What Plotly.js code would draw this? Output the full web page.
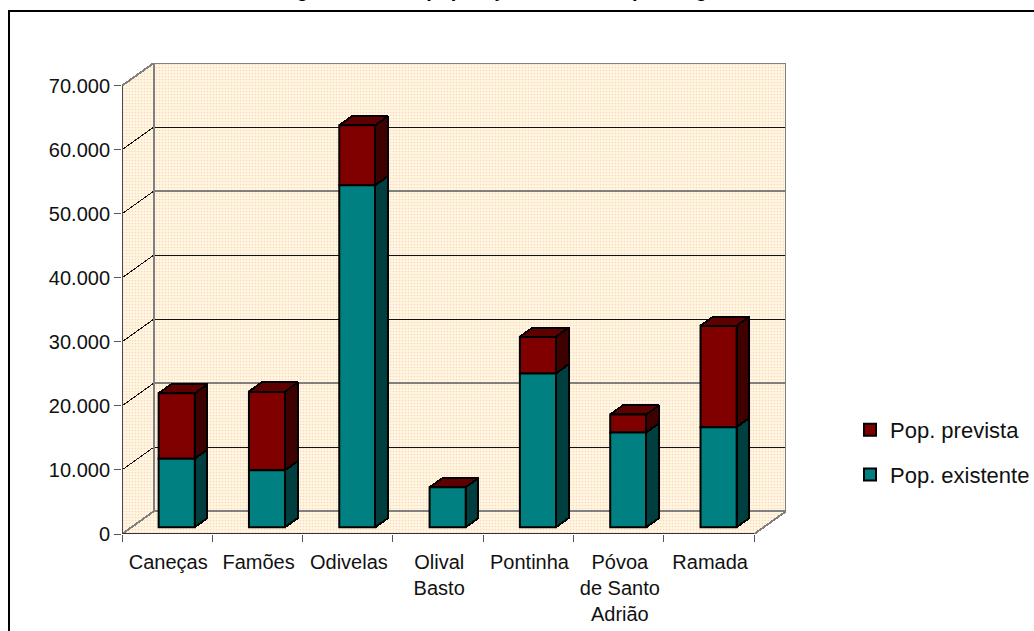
<!DOCTYPE html>
<html lang="pt">
<head>
<meta charset="utf-8">
<script src="https://cdn.plot.ly/plotly-3.0.1.min.js"></script>
<style>
html,body{margin:0;padding:0;background:#fff;overflow:hidden}
/* hard-edged strokes, as in an office-suite chart export */
#chart .scatterlayer .js-line{shape-rendering:crispEdges}
</style>
</head>
<body>
<div id="chart" style="width:1034px;height:631px"></div>
<script>
// Population per parish, thousands separated with a dot in the axis labels
const freguesias = ["Caneças", "Famões", "Odivelas", "Olival<br>Basto", "Pontinha", "Póvoa<br>de Santo<br>Adrião", "Ramada"];
const popExistente = [10700, 8880, 53400, 6230, 24000, 14800, 15620];
const popPrevista = [10200, 12300, 9370, 0, 5750, 2800, 15840];
const yTicks = [0, 10000, 20000, 30000, 40000, 50000, 60000, 70000];
const gridHeavy = [70000, 50000, 20000, 0];
const gridLight = [60000, 40000, 30000, 10000];
const nameExistente = "Pop. existente";
const namePrevista = "Pop. prevista";

// Oblique projection of the box: how far the back wall sits from the front plane
const DEPTH_X = 0.352, DEPTH_Y = 3550, Y_MAX = 70000;
const BAR_W = 0.4, FRONT = 0.3, BACK = 0.7;
const N = freguesias.length;
const LABEL_NUDGE = 0.012;
const FONT = "Liberation Sans, Arial, sans-serif";

function gaps(polys) {
  const x = [], y = [];
  polys.forEach(poly => { poly.forEach(p => { x.push(p[0]); y.push(p[1]); }); x.push(null); y.push(null); });
  return { x, y };
}
// Everything on the upper subplot (bars and their extrusions) shares the x2/y2 axes
const upper = { xaxis: "x2", yaxis: "y2" };
function polyTrace(polys, fill) {
  return Object.assign({ type: "scatter", mode: "lines", fill: "toself", fillcolor: fill,
    line: { color: "#000", width: 2 }, hoverinfo: "skip", showlegend: false }, gaps(polys), upper);
}
function wallTrace(polys) {
  return Object.assign({ type: "scatter", mode: "lines", fill: "toself",
    fillcolor: "#fff6da",
    fillpattern: { shape: ".", bgcolor: "#fff9da", fgcolor: "#fad2dc", size: 3, solidity: 0.25 },
    line: { width: 0, color: "rgba(0,0,0,0)" }, hoverinfo: "skip", showlegend: false }, gaps(polys));
}
function lineTrace(polys, color, width, extra) {
  return Object.assign({ type: "scatter", mode: "lines", line: { color, width },
    hoverinfo: "skip", showlegend: false }, gaps(polys), extra || {});
}

// Walls and floor of the box
const X_END = N + DEPTH_X;
const walls = wallTrace([
  [[DEPTH_X, DEPTH_Y], [X_END, DEPTH_Y], [X_END, Y_MAX + DEPTH_Y], [DEPTH_X, Y_MAX + DEPTH_Y], [DEPTH_X, DEPTH_Y]],
  [[0, 0], [DEPTH_X, DEPTH_Y], [DEPTH_X, Y_MAX + DEPTH_Y], [0, Y_MAX], [0, 0]],
  [[0, 0], [N, 0], [X_END, DEPTH_Y], [DEPTH_X, DEPTH_Y], [0, 0]]
]);

const gridPath = v => [[0, v], [DEPTH_X, v + DEPTH_Y], [X_END, v + DEPTH_Y]];
const backOnly = v => [[DEPTH_X, v + DEPTH_Y], [X_END, v + DEPTH_Y]];
const sideOnly = v => [[0, v], [DEPTH_X, v + DEPTH_Y]];

const gridBlack = lineTrace(gridLight.map(gridPath), "#111", 1);
const gridGrey = lineTrace(gridHeavy.map(backOnly), "#808080", 2);
const gridDiagBlack = lineTrace(gridHeavy.filter(v => v > 0 && v < Y_MAX).map(sideOnly), "#111", 1);
const gridDiagGrey = lineTrace([sideOnly(Y_MAX), sideOnly(0), [[N, 0], [X_END, DEPTH_Y]]], "#808080", 2);
const wallEdges = lineTrace([
  [[DEPTH_X, DEPTH_Y], [DEPTH_X, Y_MAX + DEPTH_Y]],
  [[X_END, DEPTH_Y], [X_END, Y_MAX + DEPTH_Y]]
], "#808080", 2);
const axisLeft = lineTrace([[[0, 0], [0, Y_MAX]]], "#4a4a4a", 2);
const axisFront = lineTrace([[[0, 0], [N, 0]]], "#333", 1.6);

// Bars: the front faces are native stacked bars, lifted by the projection offset
const centres = freguesias.map((_, i) => i + 0.5 + FRONT * DEPTH_X);
const frontBase = FRONT * DEPTH_Y;
const tops = popExistente.map((v, i) => v + popPrevista[i]);
const barTeal = Object.assign({ type: "bar", name: nameExistente, x: centres, y: popExistente, width: BAR_W,
  base: popExistente.map(() => frontBase), legendgroup: "b",
  marker: { color: "#008080", line: { color: "#000", width: 2 } }, hoverinfo: "skip" }, upper);
const barRed = Object.assign({ type: "bar", name: namePrevista, x: centres, y: popPrevista, width: BAR_W,
  base: popExistente.map(v => frontBase + v), legendgroup: "a",
  marker: { color: "#800000", line: { color: "#000", width: 2 } }, hoverinfo: "skip" }, upper);

const dX = (BACK - FRONT) * DEPTH_X, dY = (BACK - FRONT) * DEPTH_Y;
const side = (i, lo, hi) => {
  const r = centres[i] + BAR_W / 2;
  return [[r, frontBase + lo], [r + dX, frontBase + lo + dY], [r + dX, frontBase + hi + dY], [r, frontBase + hi], [r, frontBase + lo]];
};
const top3d = (i, h) => {
  const l = centres[i] - BAR_W / 2, r = centres[i] + BAR_W / 2, y = frontBase + h;
  return [[l, y], [r, y], [r + dX, y + dY], [l + dX, y + dY], [l, y]];
};
const sideTeal = polyTrace(popExistente.map((v, i) => side(i, 0, v)), "#003f3f");
const sideRed = polyTrace(popPrevista.map((v, i) => side(i, popExistente[i], tops[i])).filter((_, i) => popPrevista[i] > 0), "#3f0000");
const topRed = polyTrace(tops.map((v, i) => top3d(i, v)), "#5f0000");

const pxX = 664, pxY = 471;
const layout = {
  width: 1034, height: 631,
  margin: { l: 122, r: 248, t: 63, b: 97, pad: 0, autoexpand: false },
  paper_bgcolor: "#fff", plot_bgcolor: "rgba(0,0,0,0)",
  separators: ",.",
  barmode: "overlay",
  font: { family: FONT, size: 20, color: "#111" },
  xaxis: { range: [0, X_END], showgrid: false, zeroline: false, showline: false, ticks: "outside", ticklen: 7, tickwidth: 1, tickcolor: "#555",
    tickmode: "array", tickvals: Array.from({ length: N + 1 }, (_, i) => i), showticklabels: false },
  xaxis2: { overlaying: "x", anchor: "y2", side: "bottom", range: [0, X_END], showgrid: false, zeroline: false,
    showline: false, ticks: "", tickmode: "array", tickvals: freguesias.map((_, i) => i + 0.5 + LABEL_NUDGE), ticktext: freguesias,
    tickangle: 0, tickfont: { size: 20 }, ticklabelstandoff: 14 },
  yaxis: { range: [0, Y_MAX + DEPTH_Y], showgrid: false, zeroline: false, showline: false,
    tickmode: "array", tickvals: yTicks, tickformat: ",d", ticks: "outside", ticklen: 7, tickwidth: 1, tickcolor: "#555",
    tickfont: { size: 20 } },
  yaxis2: { overlaying: "y", anchor: "x2", range: [0, Y_MAX + DEPTH_Y], showgrid: false, zeroline: false, showline: false,
    showticklabels: false, ticks: "" },
  legend: { x: (850 - 122) / pxX, xanchor: "left", y: 1 - (409 - 63) / pxY, yanchor: "top",
    traceorder: "grouped", tracegroupgap: 13, font: { size: 22 }, bgcolor: "rgba(0,0,0,0)", itemclick: false, itemdoubleclick: false },
  shapes: [{ type: "rect", xref: "paper", yref: "paper", layer: "below",
    x0: (9 - 122) / pxX, x1: (1060 - 122) / pxX,
    y0: 1 - (660 - 63) / pxY, y1: 1 + (63 - 11) / pxY,
    line: { color: "#000", width: 2 }, fillcolor: "rgba(0,0,0,0)" }],
  annotations: [{ xref: "paper", yref: "paper", x: (182 - 122) / pxX, y: 1 + (63 - 3) / pxY,
    xanchor: "left", yanchor: "bottom", showarrow: false,
    text: "<b>Nível de carga urbana da população residente, por freguesia</b>",
    font: { family: FONT, size: 20, color: "#000" } }]
};

Plotly.newPlot("chart", [
  walls, gridBlack, gridGrey, gridDiagBlack, gridDiagGrey, wallEdges, axisLeft, axisFront,
  barRed, barTeal, sideTeal, sideRed, topRed
], layout, { staticPlot: true, displayModeBar: false });
</script>
</body>
</html>
